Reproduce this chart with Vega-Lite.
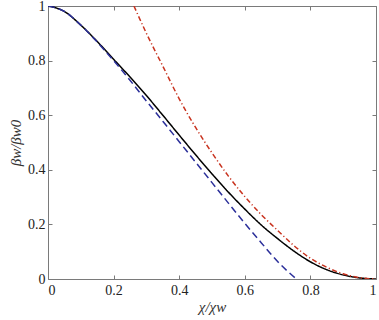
{
  "$schema": "https://vega.github.io/schema/vega-lite/v6.json",
  "width": 328,
  "height": 273,
  "autosize": "none",
  "padding": {"left": 48, "top": 6, "right": 3, "bottom": 41},
  "background": "white",
  "config": {
    "view": {"stroke": null},
    "axis": {
      "grid": false,
      "domainColor": "#7a7a7a",
      "tickColor": "#7a7a7a",
      "domainWidth": 1,
      "tickWidth": 1,
      "tickSize": -4,
      "labelFont": "Liberation Serif",
      "labelFontSize": 14,
      "labelColor": "#222222",
      "titleFont": "Liberation Serif",
      "titleFontSize": 15,
      "titleFontStyle": "italic",
      "titleFontWeight": "normal",
      "titleColor": "#333333"
    }
  },
  "data": {
    "values": [
      {"x": 0.0, "y": 1.0, "s": "exact"},
      {"x": 0.05, "y": 0.98, "s": "exact"},
      {"x": 0.1, "y": 0.93, "s": "exact"},
      {"x": 0.15, "y": 0.87, "s": "exact"},
      {"x": 0.2, "y": 0.805, "s": "exact"},
      {"x": 0.25, "y": 0.74, "s": "exact"},
      {"x": 0.3, "y": 0.672, "s": "exact"},
      {"x": 0.35, "y": 0.6, "s": "exact"},
      {"x": 0.4, "y": 0.527, "s": "exact"},
      {"x": 0.45, "y": 0.455, "s": "exact"},
      {"x": 0.5, "y": 0.385, "s": "exact"},
      {"x": 0.55, "y": 0.318, "s": "exact"},
      {"x": 0.6, "y": 0.256, "s": "exact"},
      {"x": 0.65, "y": 0.198, "s": "exact"},
      {"x": 0.7, "y": 0.148, "s": "exact"},
      {"x": 0.75, "y": 0.102, "s": "exact"},
      {"x": 0.8, "y": 0.063, "s": "exact"},
      {"x": 0.85, "y": 0.034, "s": "exact"},
      {"x": 0.9, "y": 0.015, "s": "exact"},
      {"x": 0.95, "y": 0.004, "s": "exact"},
      {"x": 1.0, "y": 0.0, "s": "exact"},
      {"x": 0.0, "y": 1.0, "s": "small"},
      {"x": 0.05, "y": 0.98, "s": "small"},
      {"x": 0.1, "y": 0.93, "s": "small"},
      {"x": 0.15, "y": 0.868, "s": "small"},
      {"x": 0.2, "y": 0.8, "s": "small"},
      {"x": 0.25, "y": 0.728, "s": "small"},
      {"x": 0.3, "y": 0.652, "s": "small"},
      {"x": 0.35, "y": 0.578, "s": "small"},
      {"x": 0.4, "y": 0.503, "s": "small"},
      {"x": 0.45, "y": 0.428, "s": "small"},
      {"x": 0.5, "y": 0.353, "s": "small"},
      {"x": 0.55, "y": 0.278, "s": "small"},
      {"x": 0.6, "y": 0.204, "s": "small"},
      {"x": 0.65, "y": 0.133, "s": "small"},
      {"x": 0.7, "y": 0.064, "s": "small"},
      {"x": 0.757, "y": 0.0, "s": "small"},
      {"x": 0.262, "y": 1.0, "s": "large"},
      {"x": 0.3, "y": 0.9, "s": "large"},
      {"x": 0.35, "y": 0.78, "s": "large"},
      {"x": 0.4, "y": 0.66, "s": "large"},
      {"x": 0.45, "y": 0.555, "s": "large"},
      {"x": 0.5, "y": 0.462, "s": "large"},
      {"x": 0.55, "y": 0.377, "s": "large"},
      {"x": 0.6, "y": 0.302, "s": "large"},
      {"x": 0.65, "y": 0.236, "s": "large"},
      {"x": 0.7, "y": 0.178, "s": "large"},
      {"x": 0.75, "y": 0.122, "s": "large"},
      {"x": 0.8, "y": 0.076, "s": "large"},
      {"x": 0.85, "y": 0.043, "s": "large"},
      {"x": 0.9, "y": 0.019, "s": "large"},
      {"x": 0.95, "y": 0.005, "s": "large"},
      {"x": 1.0, "y": 0.0, "s": "large"}
    ]
  },
  "layer": [
    {
      "mark": {"type": "line", "strokeWidth": 1.5, "clip": true, "interpolate": "monotone"},
      "encoding": {
        "x": {"field": "x", "type": "quantitative", "scale": {"domain": [0, 1], "nice": false, "zero": false},
          "axis": {"orient": "bottom", "values": [0, 0.2, 0.4, 0.6, 0.8, 1], "format": ".1~f", "title": "χ/χw", "labelPadding": 8, "titlePadding": 2}},
        "y": {"field": "y", "type": "quantitative", "scale": {"domain": [0, 1], "nice": false, "zero": false},
          "axis": {"orient": "left", "values": [0, 0.2, 0.4, 0.6, 0.8, 1], "format": ".1~f", "title": "βw/βw0", "labelPadding": 7, "titlePadding": 4}},
        "color": {"field": "s", "type": "nominal", "legend": null,
          "scale": {"domain": ["exact", "small", "large"], "range": ["#000000", "#2b2f9a", "#c8321e"]}},
        "strokeDash": {"field": "s", "type": "nominal", "legend": null,
          "scale": {"domain": ["exact", "small", "large"], "range": [[1, 0], [7, 4], [5, 2.5, 1.2, 2.5]]}},
        "order": {"field": "x", "type": "quantitative"}
      }
    },
    {
      "mark": {"type": "point", "opacity": 0},
      "encoding": {
        "x": {"field": "x", "type": "quantitative", "scale": {"domain": [0, 1], "nice": false, "zero": false},
          "axis": {"orient": "top", "values": [0, 0.2, 0.4, 0.6, 0.8, 1], "labels": false, "title": null}},
        "y": {"field": "y", "type": "quantitative", "scale": {"domain": [0, 1], "nice": false, "zero": false},
          "axis": {"orient": "right", "values": [0, 0.2, 0.4, 0.6, 0.8, 1], "labels": false, "title": null}}
      }
    }
  ],
  "resolve": {"axis": {"x": "independent", "y": "independent"}}
}
